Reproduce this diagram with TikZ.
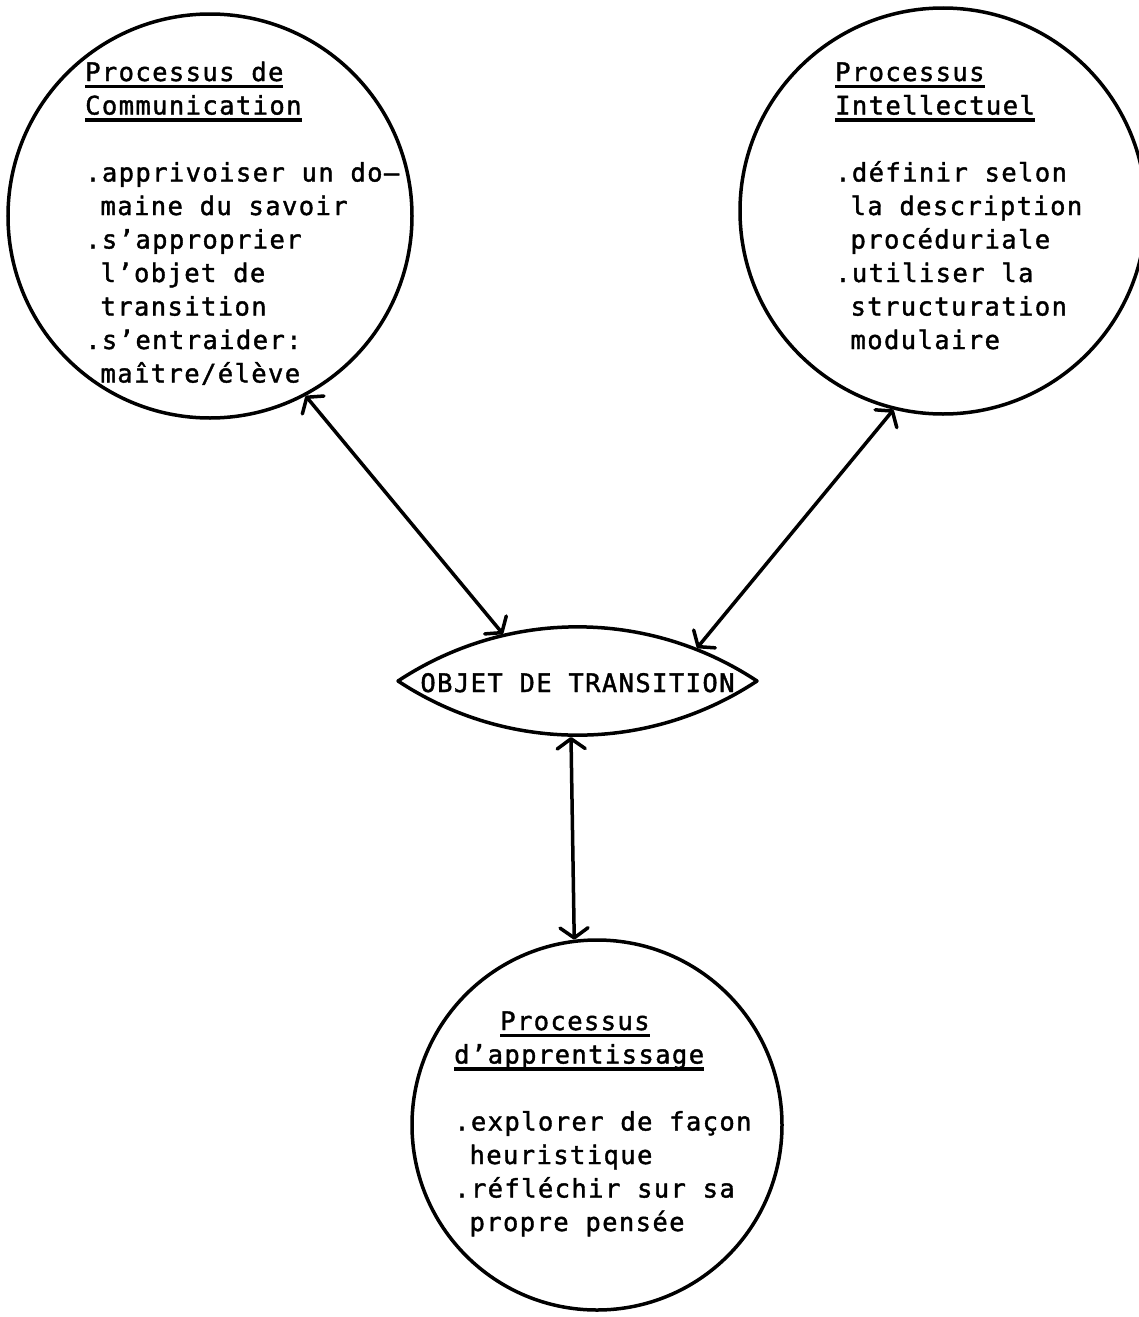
\documentclass[tikz,border=0pt]{standalone}
\usepackage{fontspec}
\usetikzlibrary{arrows.meta}
\newfontfamily\printfont[LetterSpace=5.5,FakeBold=1.5]{DejaVu Sans Mono}
% thick rule under a heading word
\newcommand\undl[1]{\setbox0=\hbox{#1}\rlap{\rule[-7pt]{\wd0}{3.5pt}}\box0}
\newcommand\ind{\phantom{x}}
\begin{document}
\begin{tikzpicture}[x=1pt,y=-1pt,
  bubble/.style={circle,draw,line width=3.5pt,inner sep=0pt},
  notes/.style={anchor=base west,inner sep=0pt,align=left,
    font=\printfont\fontsize{25.5pt}{33.5pt}\selectfont},
  link/.style={line width=3.5pt,{Straight Barb[length=10pt,width=28pt,round]}-{Straight Barb[length=10pt,width=28pt,round]}}]
\useasboundingbox (0,0) rectangle (1139,1317);
\fill[white] (0,0) rectangle (1139,1317);

% the three process circles
\node[bubble,minimum size=404pt] (c1) at (210,216) {};
\node[bubble,minimum size=406pt] (c2) at (943,211) {};
\node[bubble,minimum size=370pt] (c3) at (597,1125) {};

% circle texts (anchored on the baseline of the last line)
\node[notes] (t1) at (85,382.5) {\undl{Processus de}\\
\undl{Communication}\\[33.5pt]
.apprivoiser un do–\\
\ind maine du savoir\\
.s’approprier\\
\ind l’objet de\\
\ind transition\\
.s’entraider:\\
\ind maître/élève};

\node[notes] (t2) at (835,349) {\undl{Processus}\\
\undl{Intellectuel}\\[33.5pt]
.définir selon\\
\ind la description\\
\ind procéduriale\\
.utiliser la\\
\ind structuration\\
\ind modulaire};

\node[notes] (t3) at (454,1231) {\ind\ind\ind\undl{Processus}\\
\undl{d’apprentissage}\\[33.5pt]
.explorer de façon\\
\ind heuristique\\
.réfléchir sur sa\\
\ind propre pensée};

% central lens
\node[anchor=base,inner sep=0pt,font=\printfont\fontsize{25.5pt}{33.5pt}\selectfont] (obj) at (577.5,692) {OBJET DE TRANSITION};
\coordinate (lensL) at (398,681);
\coordinate (lensR) at (757,681);
\draw[line width=3.5pt,line join=round] (lensL) .. controls +(109.4,-72.2) and +(-109.4,-72.2) .. (lensR)
  .. controls +(-109.4,72.2) and +(109.4,72.2) .. (lensL) -- cycle;
\coordinate (l1) at (503,634);
\coordinate (l2) at (697,648);
\coordinate (l3) at (571,737);

% connectors
\draw[link] (c1.-62) -- (l1);
\draw[link] (c2.-104) -- (l2);
\draw[link] (l3) -- (c3.97);
\end{tikzpicture}
\end{document}
